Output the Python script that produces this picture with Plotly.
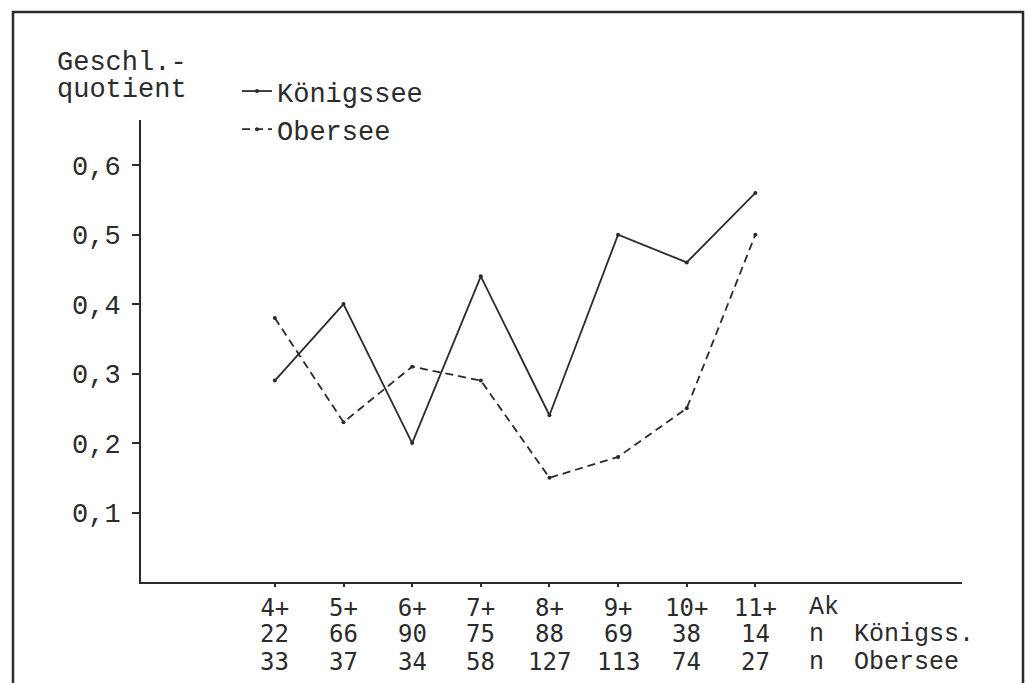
import plotly.graph_objects as go

# Sex ratio per age class in two lakes
age_classes = ["4+", "5+", "6+", "7+", "8+", "9+", "10+", "11+"]
koenigssee = [0.29, 0.40, 0.20, 0.44, 0.24, 0.50, 0.46, 0.56]
obersee = [0.38, 0.23, 0.31, 0.29, 0.15, 0.18, 0.25, 0.50]
n_koenigssee = [22, 66, 90, 75, 88, 69, 38, 14]
n_obersee = [33, 37, 34, 58, 127, 113, 74, 27]
y_ticks = [0.1, 0.2, 0.3, 0.4, 0.5, 0.6]

W, H = 1028, 683
ML, MR, MT, MB = 141, 66, 120, 101
PW, PH = W - ML - MR, H - MT - MB


def paper_x(px):
    return (px - ML) / PW


def paper_y(py):
    return (H - MB - py) / PH


TYPE = "Liberation Mono"
NUM = "DejaVu Sans Mono"
INK = "#2b2b2b"

x_pos = list(range(len(age_classes)))

fig = go.Figure()
fig.add_trace(go.Scatter(
    x=x_pos, y=koenigssee, name="Königssee", mode="lines+markers",
    line=dict(color=INK, width=1.8),
    marker=dict(color=INK, size=4),
))
fig.add_trace(go.Scatter(
    x=x_pos, y=obersee, name="Obersee", mode="lines+markers",
    line=dict(color=INK, width=1.8, dash="8px,5px"),
    marker=dict(color=INK, size=4),
))

fig.update_layout(
    width=W, height=H,
    margin=dict(l=ML, r=MR, t=MT, b=MB, pad=0, autoexpand=False),
    paper_bgcolor="white", plot_bgcolor="white",
    separators=",.",
    font=dict(family=TYPE, size=27, color=INK),
    showlegend=True,
    legend=dict(
        xref="container", yref="container",
        x=237 / W, y=1 - 67 / H, xanchor="left", yanchor="top",
        bgcolor="rgba(0,0,0,0)", borderwidth=0,
        font=dict(family=TYPE, size=27, color=INK),
        tracegroupgap=0, itemwidth=30,
    ),
    xaxis=dict(
        range=[-1.95, 10.01], showgrid=False, zeroline=False,
        showline=True, linecolor=INK, linewidth=2, automargin=False,
        tickmode="array", tickvals=x_pos, ticktext=age_classes, tickangle=0,
        ticks="outside", ticklen=3, tickwidth=1.5, tickcolor=INK,
        tickfont=dict(family=NUM, size=24, color=INK),
    ),
    yaxis=dict(
        range=[0, 0.665], showgrid=False, zeroline=False,
        showline=True, linecolor=INK, linewidth=2, automargin=False,
        tickmode="array", tickvals=y_ticks, tickformat=".1f",
        ticks="outside", ticklen=7, tickwidth=1.5, tickcolor=INK,
        ticklabelstandoff=6,
        tickfont=dict(family=TYPE, size=27, color=INK),
    ),
)

# sample sizes under each age class
for xi, nk, no in zip(x_pos, n_koenigssee, n_obersee):
    for val, row_y in ((nk, 634), (no, 662)):
        fig.add_annotation(text=str(val), xref="x", yref="paper",
                           x=xi, y=paper_y(row_y), xanchor="center", yanchor="middle",
                           showarrow=False, font=dict(family=NUM, size=24, color=INK))

# axis caption above the y axis
fig.add_annotation(text="Geschl.-", xref="paper", yref="paper",
                   x=paper_x(55), y=paper_y(63), xanchor="left", yanchor="middle",
                   showarrow=False, font=dict(family=TYPE, size=27, color=INK))
fig.add_annotation(text="quotient", xref="paper", yref="paper",
                   x=paper_x(55), y=paper_y(90), xanchor="left", yanchor="middle",
                   showarrow=False, font=dict(family=TYPE, size=27, color=INK))

# row captions at the end of the category table
for caption, row_y in (("Ak", 607), ("n  Königss.", 634), ("n  Obersee", 662)):
    fig.add_annotation(text=caption, xref="paper", yref="paper",
                       x=paper_x(807), y=paper_y(row_y), xanchor="left", yanchor="middle",
                       align="left", showarrow=False,
                       font=dict(family=TYPE, size=25, color=INK))

# frame around the whole figure
fig.add_shape(type="rect", xref="paper", yref="paper",
              x0=paper_x(13), x1=paper_x(1023), y0=paper_y(700), y1=paper_y(12),
              line=dict(color=INK, width=2.5), layer="below")

fig.write_html("out.html")
